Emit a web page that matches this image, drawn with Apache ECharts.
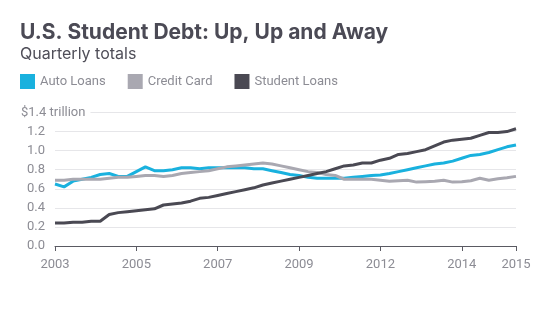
<!DOCTYPE html>
<html>
<head>
<meta charset="utf-8">
<script src="https://cdn.jsdelivr.net/npm/echarts@6/dist/echarts.min.js"></script>
<style>
  html, body { margin: 0; padding: 0; background: #fff; }
  #chart { width: 557px; height: 328px; }
</style>
</head>
<body>
<div id="chart"></div>
<script>
// Quarterly categories 2003 Q1 .. 2015 Q4
const years = [2003, 2004, 2005, 2006, 2007, 2008, 2009, 2010, 2011, 2012, 2013, 2014, 2015];
const quarters = ['Q1', 'Q2', 'Q3', 'Q4'];
const categories = [];
years.forEach(y => quarters.forEach(q => categories.push(y + ' ' + q)));

// Indices of the quarters that carry an x-axis label / tick
const labelIndices = [0, 9, 18, 27, 36, 45, 51];

// Values, trillions of dollars
const autoLoans = [
  0.65, 0.62, 0.68, 0.70, 0.72, 0.75, 0.76, 0.73, 0.73, 0.78, 0.83, 0.79, 0.79, 0.80, 0.82, 0.82,
  0.81, 0.82, 0.82, 0.82, 0.82, 0.82, 0.81, 0.81, 0.79, 0.77, 0.75, 0.74, 0.72, 0.71, 0.71, 0.71,
  0.71, 0.72, 0.73, 0.74, 0.745, 0.76, 0.78, 0.80, 0.82, 0.84, 0.86, 0.87, 0.89, 0.92, 0.95, 0.96, 0.98, 1.01, 1.04, 1.06
];
const creditCard = [
  0.69, 0.69, 0.70, 0.70, 0.70, 0.70, 0.71, 0.72, 0.72, 0.73, 0.74, 0.74, 0.73, 0.74, 0.76, 0.77,
  0.78, 0.79, 0.81, 0.83, 0.84, 0.85, 0.86, 0.87, 0.86, 0.84, 0.82, 0.80, 0.78, 0.77, 0.75, 0.74,
  0.70, 0.70, 0.70, 0.70, 0.69, 0.68, 0.685, 0.69, 0.67, 0.675, 0.68, 0.69, 0.67, 0.675, 0.685, 0.71, 0.69, 0.705, 0.715, 0.73
];
const studentLoans = [
  0.24, 0.24, 0.25, 0.25, 0.26, 0.26, 0.33, 0.35, 0.36, 0.37, 0.38, 0.39, 0.43, 0.44, 0.45, 0.47,
  0.50, 0.51, 0.53, 0.55, 0.57, 0.59, 0.61, 0.64, 0.66, 0.68, 0.70, 0.72, 0.74, 0.76, 0.78, 0.81,
  0.84, 0.85, 0.87, 0.87, 0.90, 0.92, 0.96, 0.97, 0.99, 1.01, 1.05, 1.09, 1.11, 1.12, 1.13, 1.16, 1.19, 1.19, 1.20, 1.23
];

const seriesNames = ['Auto Loans', 'Credit Card', 'Student Loans'];
const colors = ['#19b1de', '#a9a8b1', '#4a4953'];

const FONT = 'Roboto, "Noto Sans", sans-serif';
const TITLE_FONT = 'Inter, Roboto, sans-serif';
const chart = echarts.init(document.getElementById('chart'), null, { renderer: 'canvas' });

const showIdx = (i) => labelIndices.indexOf(i) !== -1;

chart.setOption({
  animation: false,
  color: colors,
  textStyle: { fontFamily: FONT },
  title: [
    {
      text: 'U.S. Student Debt: Up, Up and Away',
      left: 20, top: 22, padding: 0,
      textStyle: { fontFamily: TITLE_FONT, fontSize: 21, fontWeight: 'bold', color: '#4b4a55' }
    },
    {
      text: 'Quarterly totals',
      left: 20, top: 46, padding: 0,
      textStyle: { fontFamily: TITLE_FONT, fontSize: 16, fontWeight: 'normal', color: '#4f4e58' }
    }
  ],
  legend: {
    left: 20, top: 74, padding: 0,
    icon: 'rect',
    itemWidth: 15, itemHeight: 15,
    itemGap: 22,
    data: seriesNames,
    textStyle: { fontFamily: FONT, fontSize: 13, color: '#8c8c94' }
  },
  grid: { left: 55, right: 41, top: 112.5, bottom: 82, containLabel: false, outerBoundsMode: 'none' },
  xAxis: {
    type: 'category',
    data: categories,
    boundaryGap: false,
    axisLine: { lineStyle: { color: '#5a5a62', width: 1 } },
    axisTick: { show: true, interval: showIdx, length: 5, lineStyle: { color: '#5a5a62' } },
    axisLabel: {
      interval: showIdx,
      formatter: (v) => v.slice(0, 4),
      color: '#8c8c94', fontSize: 13, fontFamily: FONT, margin: 12
    },
    splitLine: { show: false }
  },
  yAxis: [
    {
      type: 'value', position: 'left', min: 0, max: 1.4, interval: 0.2,
      axisLine: { show: false }, axisTick: { show: false },
      axisLabel: { show: false },
      splitLine: { show: true, lineStyle: { color: '#e6e6e9', width: 1 } }
    },
    {
      type: 'value', position: 'left', offset: 0, min: 0, max: 1.4, interval: 0.2, z: 10,
      axisLine: { show: false }, axisTick: { show: false },
      splitLine: { show: false },
      axisLabel: {
        align: 'left', margin: 34,
        color: '#8c8c94', fontSize: 13, fontFamily: FONT,
        formatter: (v) => Math.abs(v - 1.4) < 1e-6 ? '{t|$1.4 trillion}' : '{n|' + v.toFixed(1) + '}',
        rich: {
          n: { padding: [0, 0, 0, 6], color: '#8c8c94', fontSize: 13, fontFamily: FONT },
          t: { padding: [2, 5, 2, 0], backgroundColor: '#ffffff', color: '#8c8c94', fontSize: 13, fontFamily: FONT }
        }
      }
    }
  ],
  series: [
    { name: seriesNames[0], type: 'line', yAxisIndex: 0, data: autoLoans, showSymbol: false, lineStyle: { width: 3, color: colors[0] } },
    { name: seriesNames[1], type: 'line', yAxisIndex: 0, data: creditCard, showSymbol: false, lineStyle: { width: 3, color: colors[1] } },
    { name: seriesNames[2], type: 'line', yAxisIndex: 0, data: studentLoans, showSymbol: false, lineStyle: { width: 3, color: colors[2] } }
  ]
});
</script>
</body>
</html>
